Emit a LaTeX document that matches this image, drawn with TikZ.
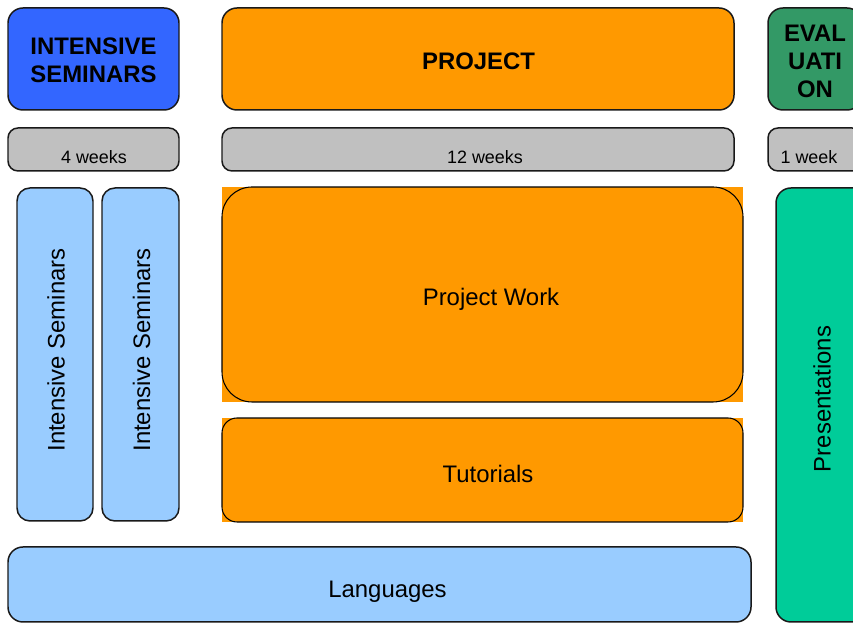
\documentclass[tikz,border=0pt]{standalone}
\usepackage{fontspec}
\setmainfont{Liberation Sans}
\definecolor{semblue}{HTML}{3366FF}
\definecolor{projorange}{HTML}{FF9900}
\definecolor{evalgreen}{HTML}{339966}
\definecolor{weekgray}{HTML}{C0C0C0}
\definecolor{lightsem}{HTML}{99CCFF}
\definecolor{presgreen}{HTML}{00CC99}

\begin{document}
\begin{tikzpicture}[
		box/.style={draw=black!90, line width=0.85pt, rounded corners=0.3cm},
		head/.style={font=\fontsize{13.6pt}{15.9pt}\selectfont\bfseries, align=center},
		weeklbl/.style={font=\fontsize{10.2pt}{12pt}\selectfont},
		lbl/.style={font=\fontsize{13.6pt}{16pt}\selectfont}
	]
			%%%%% START %%%%%
			\clip (0, 0) rectangle (17.06, 12.48);
			
			% headers
			\draw[box, fill=semblue] (0.16, 12.32) rectangle (3.58, 10.28);
			\draw[box, fill=projorange] (4.44, 12.32) rectangle (14.68, 10.28);
			\draw[box, fill=evalgreen] (15.36, 12.32) rectangle (17.24, 10.28);
			\node[head] (intsem) at (1.87, 11.28) {INTENSIVE\\SEMINARS};
			\node[head] (project) at (9.57, 11.26) {PROJECT};
			\node[head] (evaluation) at (16.3, 11.25) {EVAL\\UATI\\ON};
			
			% durations
			\draw[box, rounded corners=0.2cm, fill=weekgray] (0.16, 9.92) rectangle (3.58, 9.06);
			\draw[box, rounded corners=0.2cm, fill=weekgray] (4.44, 9.92) rectangle (14.68, 9.06);
			\draw[box, rounded corners=0.2cm, fill=weekgray] (15.36, 9.92) rectangle (17.24, 9.06);
			\node[weeklbl] (fourweeks) at (1.88, 9.33) {4 weeks};
			\node[weeklbl] (twelveweeks) at (9.7, 9.33) {12 weeks};
			\node[weeklbl] (oneweek) at (16.18, 9.33) {1 week};
			
			% seminars
			\draw[box, rounded corners=0.26cm, fill=lightsem] (0.34, 8.72) rectangle (1.86, 2.06);
			\draw[box, rounded corners=0.26cm, fill=lightsem] (2.04, 8.72) rectangle (3.58, 2.06);
			\node[lbl, rotate=90] (semone) at (1.12, 5.48) {Intensive Seminars};
			\node[lbl, rotate=90] (semtwo) at (2.83, 5.48) {Intensive Seminars};
			
			% project work and tutorials
			\fill[projorange] (4.44, 8.74) rectangle (14.86, 4.44);
			\draw[line width=0.6pt, rounded corners=0.6cm] (4.44, 8.74) rectangle (14.86, 4.44);
			\fill[projorange] (4.44, 4.12) rectangle (14.86, 2.04);
			\draw[line width=0.6pt, rounded corners=0.3cm] (4.44, 4.12) rectangle (14.86, 2.04);
			\node[lbl] (projwork) at (9.82, 6.49) {Project Work};
			\node[lbl] (tutorials) at (9.76, 3.01) {Tutorials};
			
			% presentations
			\draw[box, fill=presgreen] (15.52, 8.72) rectangle (17.36, 0.04);
			\node[lbl, rotate=90] (presentations) at (16.44, 4.5) {Presentations};
			
			% languages
			\draw[box, fill=lightsem] (0.16, 1.54) rectangle (15.02, 0.04);
			\node[lbl] (languages) at (7.75, 0.65) {Languages};
			%%%%% END %%%%%
		\end{tikzpicture}
\end{document}
